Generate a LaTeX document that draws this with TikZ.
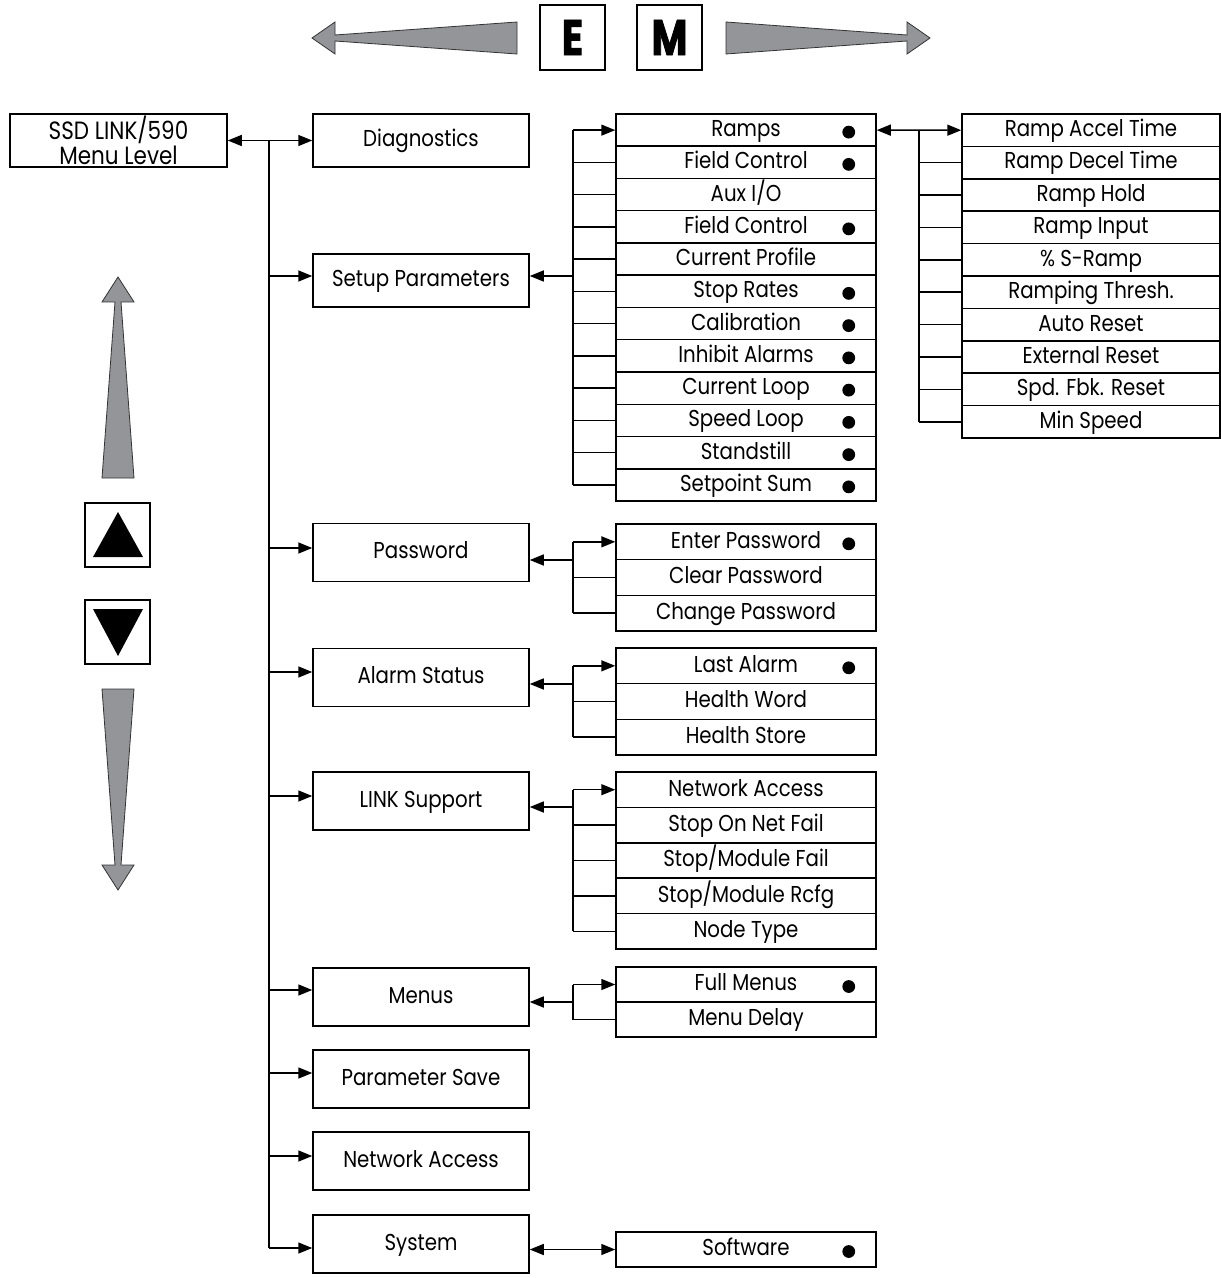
\documentclass[tikz,border=0pt]{standalone}
\usepackage{fontspec}
\setmainfont{Poppins}[FakeStretch=0.86]
\newfontfamily\keyfont{Poppins}[FakeStretch=0.78,BoldFeatures={FakeBold=1.6}]
\usetikzlibrary{arrows.meta}
\definecolor{keygrey}{RGB}{147,149,152}
\begin{document}
\begin{tikzpicture}[x=0.5pt,y=-0.5pt,line width=0.75pt,
  tip/.tip={Triangle[length=7pt,width=5.5pt]},
  lvl/.style={draw,minimum width=108pt,minimum height=29pt,inner sep=0pt,
    text height=8.6pt,text depth=2.6pt,
    font=\fontsize{11.5}{12}\selectfont},
  row/.style={draw,minimum width=130pt,inner sep=0pt,
    text height=8.8pt,text depth=2.4pt,
    font=\fontsize{11.5}{12}\selectfont},
  rrow/.style={draw,minimum width=129pt,inner sep=0pt,
    text height=8.8pt,text depth=2.4pt,
    font=\fontsize{11.5}{12}\selectfont},
  key/.style={draw,minimum width=32.5pt,minimum height=32.5pt,inner sep=0pt,
    font=\keyfont\bfseries\fontsize{25}{25}\selectfont},
  bigarrow/.style={fill=keygrey,draw=black!80,line width=0.4pt},
  bullet/.style={fill=black}]
\useasboundingbox (0,0) rectangle (1220,1278);

% ---- scroll keys ----
\node[key] (ekey) at (572.5,37.5) {E};
\node[key] (mkey) at (669.5,37.5) {M};
\draw[bigarrow] (312,38) -- (335,22) -- (335,35) -- (517,22) -- (517,54)
  -- (335,41) -- (335,54) -- cycle;
\draw[bigarrow] (930,38) -- (907,22) -- (907,35) -- (726,22) -- (726,54)
  -- (907,41) -- (907,54) -- cycle;

\node[draw,minimum width=32.5pt,minimum height=32pt] (upkey) at (117.5,535) {};
\fill (118,512) -- (143,557) -- (93,557) -- cycle;
\node[draw,minimum width=32.5pt,minimum height=32pt] (downkey) at (117.5,632) {};
\fill (118,656) -- (143,609) -- (93,609) -- cycle;
\draw[bigarrow] (118,277) -- (102,302) -- (115,302) -- (102,478) -- (134,478)
  -- (121,302) -- (134,302) -- cycle;
\draw[bigarrow] (118,890) -- (102,865) -- (115,865) -- (102,689) -- (134,689)
  -- (121,865) -- (134,865) -- cycle;

% ---- top level ----
\node[draw,minimum width=108.5pt,minimum height=26.5pt,inner sep=0pt,align=center,
  font=\fontsize{12.5}{11}\selectfont] (ssd) at (118.5,140.5)
  {SSD LINK/590\\Menu Level};

\node[lvl,minimum height=26.5pt] (diag) at (421,140.5) {Diagnostics};
\node[lvl,minimum height=26.5pt] (setup) at (421,280.5) {Setup Parameters};
\node[lvl] (pass) at (421,552.5) {Password};
\node[lvl] (alarm) at (421,677.5) {Alarm Status};
\node[lvl] (link) at (421,801) {LINK Support};
\node[lvl] (menus) at (421,997) {Menus};
\node[lvl] (psave) at (421,1079) {Parameter Save};
\node[lvl] (netacc) at (421,1161) {Network Access};
\node[lvl] (system) at (421,1244) {System};

\draw[tip-tip] (ssd.east) -- (diag.west);
\coordinate (trunk) at (269,140.5);
\draw (trunk) -- (269,1248);
\foreach \n/\y in {setup/276,pass/548,alarm/672,link/796,menus/990,
  psave/1073,netacc/1156,system/1248}
  \draw[-tip] (trunk |- 0,\y) -- (\n.west |- 0,\y);

% ---- Setup Parameters submenu ----
\foreach \t/\b [count=\i] in {Ramps/1,Field Control/1,{Aux I/O}/0,
  Field Control/1,Current Profile/0,Stop Rates/1,Calibration/1,
  Inhibit Alarms/1,Current Loop/1,Speed Loop/1,Standstill/1,Setpoint Sum/1}
{
  \node[row,minimum height=16.125pt] (sp\i) at (746,{114+(\i-0.5)*32.25}) {\t};
  \ifnum\b=1 \fill[bullet] ([xshift=-14pt,yshift=-1pt]sp\i.east) circle (3.2pt);\fi
}
\coordinate (spbus) at (573,276);
\draw[-tip] (spbus) -- (spbus -| setup.east);
\draw (sp1.west -| spbus) -- (sp12.west -| spbus);
\draw[-tip] (sp1.west -| spbus) -- (sp1.west);
\foreach \i in {2,...,12} \draw (sp\i.west -| spbus) -- (sp\i.west);

% ---- Ramps submenu ----
\foreach \t [count=\i] in {Ramp Accel Time,Ramp Decel Time,Ramp Hold,
  Ramp Input,\% S-Ramp,Ramping Thresh.,Auto Reset,External Reset,
  Spd. Fbk. Reset,Min Speed}
  \node[rrow,minimum height=16.2pt] (rp\i) at (1091,{114+(\i-0.5)*32.4}) {\t};
\draw[tip-tip] (sp1.east) -- (rp1.west);
\coordinate (rpbus) at (919,130);
\draw (rpbus) -- (rp10.west -| rpbus);
\foreach \i in {2,...,10} \draw (rp\i.west -| rpbus) -- (rp\i.west);

% ---- Password submenu ----
\foreach \t/\b [count=\i] in {Enter Password/1,Clear Password/0,Change Password/0}
{
  \node[row,minimum height=17.83pt] (pw\i) at (746,{524+(\i-0.5)*35.67}) {\t};
  \ifnum\b=1 \fill[bullet] ([xshift=-14pt,yshift=-1pt]pw\i.east) circle (3.2pt);\fi
}
\coordinate (pwbus) at (573,560);
\draw[-tip] (pwbus) -- (pwbus -| pass.east);
\draw (pw1.west -| pwbus) -- (pw3.west -| pwbus);
\draw[-tip] (pw1.west -| pwbus) -- (pw1.west);
\foreach \i in {2,3} \draw (pw\i.west -| pwbus) -- (pw\i.west);

% ---- Alarm Status submenu ----
\foreach \t/\b [count=\i] in {Last Alarm/1,Health Word/0,Health Store/0}
{
  \node[row,minimum height=17.83pt] (al\i) at (746,{648+(\i-0.5)*35.67}) {\t};
  \ifnum\b=1 \fill[bullet] ([xshift=-14pt,yshift=-1pt]al\i.east) circle (3.2pt);\fi
}
\coordinate (albus) at (573,684);
\draw[-tip] (albus) -- (albus -| alarm.east);
\draw (al1.west -| albus) -- (al3.west -| albus);
\draw[-tip] (al1.west -| albus) -- (al1.west);
\foreach \i in {2,3} \draw (al\i.west -| albus) -- (al\i.west);

% ---- LINK Support submenu ----
\foreach \t [count=\i] in {Network Access,Stop On Net Fail,{Stop/Module Fail},
  {Stop/Module Rcfg},Node Type}
  \node[row,minimum height=17.7pt] (lk\i) at (746,{772+(\i-0.5)*35.4}) {\t};
\coordinate (lkbus) at (573,807);
\draw[-tip] (lkbus) -- (lkbus -| link.east);
\draw (lk1.west -| lkbus) -- (lk5.west -| lkbus);
\draw[-tip] (lk1.west -| lkbus) -- (lk1.west);
\foreach \i in {2,...,5} \draw (lk\i.west -| lkbus) -- (lk\i.west);

% ---- Menus submenu ----
\foreach \t/\b [count=\i] in {Full Menus/1,Menu Delay/0}
{
  \node[row,minimum height=17.5pt] (mn\i) at (746,{967+(\i-0.5)*35}) {\t};
  \ifnum\b=1 \fill[bullet] ([xshift=-14pt,yshift=-1pt]mn\i.east) circle (3.2pt);\fi
}
\coordinate (mnbus) at (573,1002);
\draw[-tip] (mnbus) -- (mnbus -| menus.east);
\draw (mn1.west -| mnbus) -- (mn2.west -| mnbus);
\draw[-tip] (mn1.west -| mnbus) -- (mn1.west);
\draw (mn2.west -| mnbus) -- (mn2.west);

% ---- System submenu ----
\node[row,minimum height=17.5pt] (soft) at (746,1249.5) {Software};
\fill[bullet] ([xshift=-14pt,yshift=-1pt]soft.east) circle (3.2pt);
\draw[tip-tip] (system.east |- soft.west) -- (soft.west);
\end{tikzpicture}
\end{document}
